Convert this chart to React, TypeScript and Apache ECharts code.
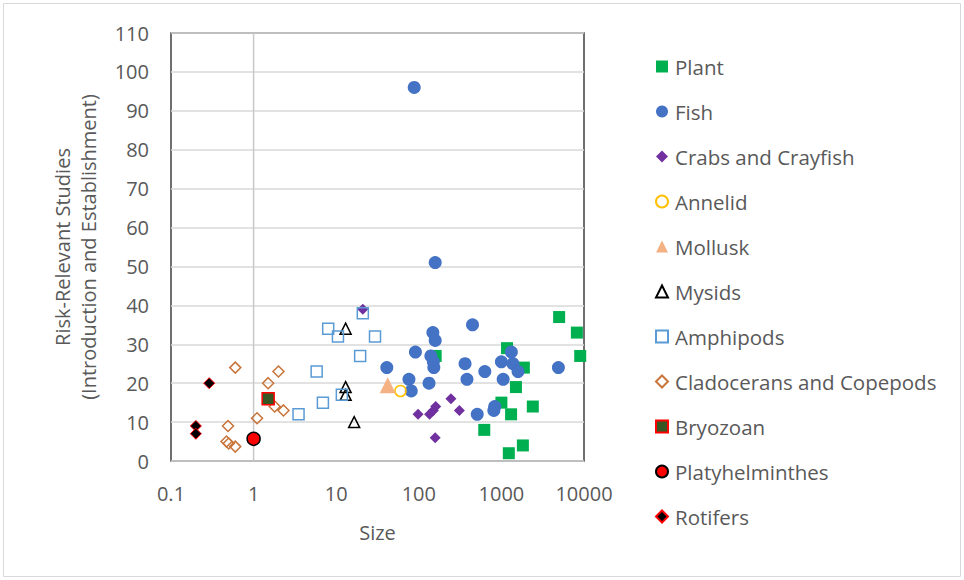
import React, { useEffect, useRef } from "react";
import * as echarts from "echarts";

// ---- Data (Size, Risk-Relevant Studies) ----
const plant = [
  [5000, 37], [8200, 33], [9000, 27], [1170, 29], [1870, 24], [1500, 19],
  [1000, 15], [1310, 12], [2400, 14], [620, 8], [1230, 2], [1820, 4], [160, 27],
];
const fish = [
  [88, 96], [158, 51], [447, 35], [148, 33], [158, 31], [91, 28], [140, 27],
  [150, 25.5], [152, 24], [41, 24], [76, 21], [81, 18], [133, 20], [363, 25],
  [383, 21], [630, 23], [510, 12], [830, 14], [810, 13], [1050, 21], [1000, 25.5],
  [1320, 28], [1380, 25], [1590, 23], [4900, 24],
];
const crabs = [[21, 39], [98, 12], [135, 12], [150, 13], [160, 14], [245, 16], [310, 13], [158, 6]];
const annelid = [[60, 18]];
const mollusk = [[42, 19.5]];
const mysids = [[13, 34], [13, 19], [13, 17], [16.5, 10]];
const amphipods = [
  [8, 34], [10.5, 32], [21, 38], [29.5, 32], [19.5, 27], [5.8, 23], [6.9, 15], [3.5, 12], [11.7, 17],
];
const cladocerans = [
  [0.6, 24], [2, 23], [1.5, 20], [1.8, 14], [2.3, 13], [1.1, 11], [0.49, 9], [0.47, 5], [0.5, 4.5], [0.6, 3.7],
];
const bryozoan = [[1.5, 16]];
const platyhelminthes = [[1, 5.7]];
const rotifers = [[0.29, 20], [0.2, 9], [0.2, 7]];

const xTicks = [0.1, 1, 10, 100, 1000, 10000];
const yMin = 0;
const yMax = 110;
const yStep = 10;
const refLine = [[1, yMin], [1, yMax]];

const FONT = "Open Sans";
const GREY = "#595959";

type Pt = number[];
function sc(name: string, data: Pt[], symbol: string, size: number, color: string, borderColor: string, borderWidth: number) {
  return {
    type: "scatter",
    name,
    data,
    symbol,
    symbolSize: size,
    itemStyle: { color, borderColor, borderWidth, opacity: 1 },
    emphasis: { disabled: true },
  };
}

export default function App() {
  const ref = useRef<HTMLDivElement>(null);
  useEffect(() => {
    document.body.style.margin = "0";
    const chart = echarts.init(ref.current!, null, { renderer: "svg" });
    const none = "rgba(255,255,255,0)";
    const series: any[] = [
      {
        type: "line",
        name: "ref",
        data: refLine,
        symbol: "none",
        silent: true,
        z: 1,
        lineStyle: { color: "#C8C8C8", width: 1.5 },
      },
      sc("Plant", plant, "rect", 12, "#00B050", "#00B050", 0),
      sc("Fish", fish, "circle", 13, "#4472C4", "#4472C4", 0),
      sc("Crabs and Crayfish", crabs, "diamond", 11, "#7030A0", "#7030A0", 0),
      sc("Annelid", annelid, "circle", 11, none, "#FFC000", 1.5),
      sc("Mollusk", mollusk, "triangle", 16, "#F4B183", "#F4B183", 0),
      sc("Mysids", mysids, "triangle", 11, none, "#000000", 1.5),
      sc("Amphipods", amphipods, "rect", 11, none, "#5B9BD5", 1.5),
      sc("Cladocerans and Copepods", cladocerans, "diamond", 11, none, "#C8743A", 1.5),
      sc("Bryozoan", bryozoan, "rect", 12, "#375623", "#FF0000", 1.5),
      sc("Platyhelminthes", platyhelminthes, "circle", 13, "#FF0000", "#000000", 1.5),
      sc("Rotifers", rotifers, "diamond", 11, "#000000", "#FF0000", 1),
    ];
    chart.setOption({
      animation: false,
      textStyle: { fontFamily: FONT },
      grid: {
        left: 171,
        right: 380,
        top: 33,
        bottom: 119,
        show: true,
        borderColor: "#404040",
        borderWidth: 1.5,
        backgroundColor: "#fff",
      },
      xAxis: {
        type: "log",
        logBase: 10,
        min: xTicks[0],
        max: xTicks[xTicks.length - 1],
        name: "Size",
        nameLocation: "middle",
        nameGap: 61,
        nameTextStyle: { color: GREY, fontSize: 20, fontFamily: FONT },
        axisLine: { show: false },
        axisTick: { show: false },
        splitLine: { show: false },
        axisLabel: { color: GREY, fontSize: 20, margin: 22, fontFamily: FONT, formatter: (v: number) => String(v) },
      },
      yAxis: {
        type: "value",
        min: yMin,
        max: yMax,
        interval: yStep,
        axisLine: { show: false },
        axisTick: { show: false },
        splitLine: { lineStyle: { color: "#D9D9D9", width: 1.5 } },
        axisLabel: { color: GREY, fontSize: 20, margin: 22, fontFamily: FONT },
      },
      legend: {
        orient: "vertical",
        left: 650,
        top: 51,
        itemWidth: 12,
        itemHeight: 12,
        itemGap: 24,
        data: [
          "Plant", "Fish", "Crabs and Crayfish", "Annelid", "Mollusk", "Mysids", "Amphipods",
          "Cladocerans and Copepods", "Bryozoan", "Platyhelminthes", "Rotifers",
        ],
        textStyle: { color: GREY, fontSize: 20.5, lineHeight: 20, fontFamily: FONT, padding: [0, 0, 0, 2] },
        selectedMode: false,
      },
      graphic: [
        {
          type: "rect",
          shape: { x: 3.5, y: 3.5, width: 957, height: 573 },
          style: { fill: "none", stroke: "#D9D9D9", lineWidth: 1 },
          silent: true,
          z: -10,
        },
        {
          type: "text",
          x: 75,
          y: 247,
          rotation: Math.PI / 2,
          style: {
            text: "Risk-Relevant Studies\n(Introduction and Establishment)",
            fill: GREY,
            font: `20px ${FONT}`,
            lineHeight: 26,
            align: "center",
            verticalAlign: "middle",
          },
          silent: true,
        },
      ],
      series,
    });
    return () => chart.dispose();
  }, []);
  return <div ref={ref} style={{ width: 964, height: 580 }} />;
}
